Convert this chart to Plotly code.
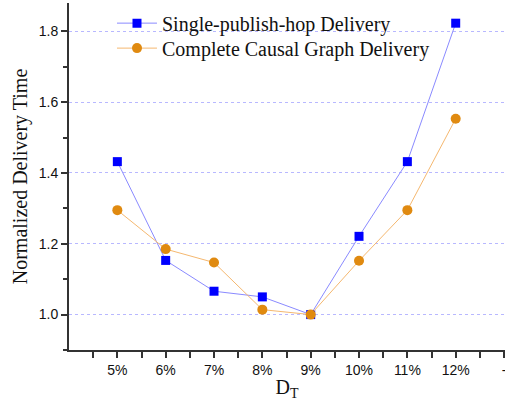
import plotly.graph_objects as go

categories = ["5%", "6%", "7%", "8%", "9%", "10%", "11%", "12%"]
extra_tick = "-"
single_hop = [1.432, 1.153, 1.066, 1.050, 1.000, 1.221, 1.432, 1.823]
complete_graph = [1.295, 1.185, 1.147, 1.014, 1.000, 1.152, 1.295, 1.553]
y_ticks = [1.0, 1.2, 1.4, 1.6, 1.8]

xpos = list(range(len(categories)))

fig = go.Figure()
fig.add_trace(go.Scatter(
    x=xpos, y=single_hop, mode="lines+markers", name="Single-publish-hop Delivery",
    line=dict(color="#8a8aff", width=1),
    marker=dict(symbol="square", size=9, color="#0000ff"),
    legend="legend",
))
fig.add_trace(go.Scatter(
    x=xpos, y=complete_graph, mode="lines+markers", name="Complete Causal Graph Delivery",
    line=dict(color="#f5b870", width=1),
    marker=dict(symbol="circle", size=10, color="#e08a10"),
    legend="legend2",
))

legend_font = dict(family="Liberation Serif", size=20, color="#111")
fig.update_layout(
    width=505, height=401,
    margin=dict(l=69, r=0, t=3, b=51),
    paper_bgcolor="white", plot_bgcolor="white",
    showlegend=True,
    legend=dict(x=0.0986, y=0.942, xanchor="left", yanchor="middle",
                bgcolor="rgba(0,0,0,0)", font=legend_font, itemwidth=40),
    legend2=dict(x=0.0986, y=0.870, xanchor="left", yanchor="middle",
                 bgcolor="rgba(0,0,0,0)", font=legend_font, itemwidth=40),
    xaxis=dict(
        range=[-1, 8.02],
        automargin=False,
        tickmode="array",
        tickvals=xpos + [len(categories)],
        ticktext=categories + [extra_tick],
        ticklabeloverflow="allow",
        ticks="outside", ticklen=6, tickwidth=1.5, tickcolor="#333",
        minor=dict(tickmode="array", tickvals=[i - 0.5 for i in range(0, 10)],
                   ticks="outside", ticklen=6, tickwidth=1.5, tickcolor="#333"),
        showline=True, linecolor="#333", linewidth=2,
        showgrid=False, zeroline=False,
        tickfont=dict(family="Liberation Sans", size=14, color="#111"),
        title=dict(text="D<sub>T</sub>", standoff=4,
                   font=dict(family="Liberation Serif", size=20, color="#111")),
    ),
    yaxis=dict(
        range=[0.9, 1.88],
        automargin=False,
        tickmode="array", tickvals=y_ticks,
        ticktext=[f"{v:.1f}" for v in y_ticks],
        ticks="outside", ticklen=6, tickwidth=1.5, tickcolor="#333",
        minor=dict(tickmode="array", tickvals=[0.9, 1.1, 1.3, 1.5, 1.7],
                   ticks="outside", ticklen=4, tickwidth=1.5, tickcolor="#333",
                   showgrid=False),
        showline=True, linecolor="#333", linewidth=2,
        showgrid=True, gridcolor="#b8b8ff", griddash="dot", gridwidth=1,
        zeroline=False,
        tickfont=dict(family="Liberation Sans", size=14, color="#111"),
        title=dict(text="Normalized Delivery Time", standoff=6,
                   font=dict(family="Liberation Serif", size=20, color="#111")),
    ),
)

fig.write_html("out.html", config={"displayModeBar": False},
               post_script="document.body.style.margin='0px';")
